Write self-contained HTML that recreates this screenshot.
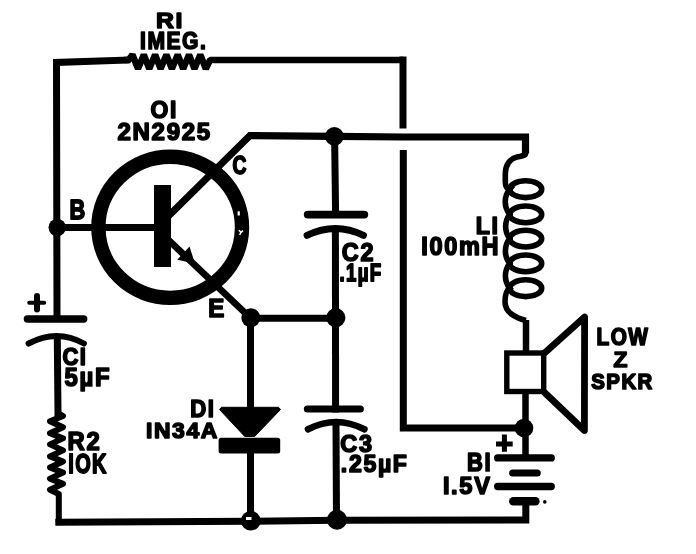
<!DOCTYPE html>
<html><head><meta charset="utf-8"><style>
html,body{margin:0;padding:0;background:#fff;}
body{width:696px;height:554px;overflow:hidden;}
svg{display:block;will-change:transform;}
text{font-family:"Liberation Sans",sans-serif;font-weight:bold;fill:#000;font-kerning:none;}
</style></head><body>
<svg width="696" height="554" viewBox="0 0 696 554">
<rect width="696" height="554" fill="#fff"/>
<path d="M127,60 L56.5,62.5 L57,316" fill="none" stroke="#000" stroke-width="7" stroke-linejoin="miter" stroke-linecap="square"/>
<path d="M124,60 L128.5,60 L132.5,54.8 L138.0,68.8 L143.8,54.8 L149.3,68.8 L155.1,54.8 L160.6,68.8 L166.4,54.8 L171.9,68.8 L177.7,54.8 L183.2,68.8 L189.0,54.8 L194.5,68.8 L200.3,54.8 L205.8,68.8 L210,60 L403,60" fill="none" stroke="#000" stroke-width="6.5" stroke-linejoin="bevel"/>
<path d="M403,56.5 L403,128.5" fill="none" stroke="#000" stroke-width="7" stroke-linejoin="miter" stroke-linecap="butt"/>
<path d="M403.3,150 L403.3,428 L524,428" fill="none" stroke="#000" stroke-width="7" stroke-linejoin="miter" stroke-linecap="butt"/>
<path d="M57,227.5 L155,227.5" fill="none" stroke="#000" stroke-width="7" stroke-linejoin="miter" stroke-linecap="square"/>
<path d="M27.4,319 L83.7,319" stroke="#000" stroke-width="7.4" stroke-linecap="round"/>
<path d="M28.6,343.5 Q57,328.5 83.9,343.5" fill="none" stroke="#000" stroke-width="6" stroke-linecap="round"/>
<path d="M57.3,339 L58,413" fill="none" stroke="#000" stroke-width="7" stroke-linejoin="miter" stroke-linecap="square"/>
<path d="M58,410 L58,413 L63,416 L50,421.3 L63,427.3 L50,433.3 L63,438.4 L50,444.4 L63,450.4 L50,456.4 L63,461.5 L50,467.5 L63,472.6 L50,478.6 L63,483.8 L50,489.8 L58.8,494 L58.8,522" fill="none" stroke="#000" stroke-width="6" stroke-linejoin="round"/>
<path d="M58.8,522.2 L250,521.3 L337,520.2 L525.8,520 L525.8,501" fill="none" stroke="#000" stroke-width="7" stroke-linejoin="miter" stroke-linecap="square"/>
<ellipse cx="170.2" cy="227.3" rx="71.8" ry="70.6" fill="none" stroke="#000" stroke-width="14.4"/>
<rect x="154" y="185" width="17" height="82" fill="#000"/>
<path d="M170,214.5 L250,135.5 L334.5,136.3 L403,137 L525.5,137 L525.5,150" fill="none" stroke="#000" stroke-width="7.2" stroke-linejoin="miter" stroke-linecap="square"/>
<path d="M170,241.5 L251,318.5" fill="none" stroke="#000" stroke-width="6.8" stroke-linejoin="miter" stroke-linecap="square"/>
<polygon points="189.5,246.5 177.2,259.8 195,263.5" fill="#000"/>
<path d="M251.7,318.3 L336,318.2" fill="none" stroke="#000" stroke-width="7" stroke-linejoin="miter" stroke-linecap="square"/>
<path d="M250.5,317 L250.5,410" fill="none" stroke="#000" stroke-width="7" stroke-linejoin="miter" stroke-linecap="square"/>
<polygon points="221.5,407.3 278.5,407.3 280.5,409.5 254.6,436.5 244.8,436.5 219.5,409.5" fill="#000" stroke="#000" stroke-width="1" stroke-linejoin="round"/>
<rect x="218.6" y="437.7" width="61.6" height="15.8" rx="2.5" fill="#000"/>
<path d="M250.5,453 L250.5,520" fill="none" stroke="#000" stroke-width="7" stroke-linejoin="miter" stroke-linecap="square"/>
<path d="M334.6,136 L335.6,214" fill="none" stroke="#000" stroke-width="7" stroke-linejoin="miter" stroke-linecap="square"/>
<path d="M307.7,214.6 L364.3,214.6" stroke="#000" stroke-width="7.8" stroke-linecap="round"/>
<path d="M307,235.4 Q335.5,221.6 363.5,235.4" fill="none" stroke="#000" stroke-width="6.8" stroke-linecap="round"/>
<path d="M335.4,232 L335.6,409" fill="none" stroke="#000" stroke-width="7" stroke-linejoin="miter" stroke-linecap="square"/>
<path d="M307.4,409 L360.3,409" stroke="#000" stroke-width="7.2" stroke-linecap="round"/>
<path d="M308,429.3 Q336,414.7 364.4,429.3" fill="none" stroke="#000" stroke-width="6.6" stroke-linecap="round"/>
<path d="M336,425 L336.5,520" fill="none" stroke="#000" stroke-width="7" stroke-linejoin="miter" stroke-linecap="square"/>
<ellipse cx="525.7" cy="189.2" rx="16" ry="8.4" fill="none" stroke="#000" stroke-width="5.6"/>
<ellipse cx="525.7" cy="214.4" rx="16" ry="8.4" fill="none" stroke="#000" stroke-width="5.6"/>
<ellipse cx="525.7" cy="238.6" rx="16" ry="8.4" fill="none" stroke="#000" stroke-width="5.6"/>
<ellipse cx="525.7" cy="263.4" rx="16" ry="8.4" fill="none" stroke="#000" stroke-width="5.6"/>
<ellipse cx="525.7" cy="288.2" rx="16" ry="8.4" fill="none" stroke="#000" stroke-width="5.6"/>
<path d="M525.5,150 L525.5,153.5 C525.5,156 521,156 517,157 C510,158.5 505.3,165 505.3,174 L505.3,182 C505.3,186 507,189.2 509.70000000000005,189.2 A 20 20 0 0 0 509.70000000000005,214.4 A 20 20 0 0 0 509.70000000000005,238.6 A 20 20 0 0 0 509.70000000000005,263.4 A 20 20 0 0 0 509.70000000000005,288.2 C506,290.2 505,295 505,302 C505,312 515,318 526,320.5" fill="none" stroke="#000" stroke-width="5.6"/>
<path d="M526,320 L526,351" fill="none" stroke="#000" stroke-width="6.5" stroke-linejoin="miter" stroke-linecap="butt"/>
<rect x="506.8" y="353" width="36.9" height="38.5" fill="none" stroke="#000" stroke-width="5.4"/>
<path d="M544,353.5 L584.6,317 L584.4,430.5 L544,392" fill="none" stroke="#000" stroke-width="6.8" stroke-linejoin="round"/>
<path d="M525.5,393 L525.5,457" fill="none" stroke="#000" stroke-width="6.5" stroke-linejoin="miter" stroke-linecap="butt"/>
<path d="M497.6,457.9 L551.3,457.9" stroke="#000" stroke-width="7.2" stroke-linecap="round"/>
<path d="M512.6,473.1 L537.3,473.1" stroke="#000" stroke-width="7" stroke-linecap="round"/>
<path d="M497.7,486.5 L551.2,486.5" stroke="#000" stroke-width="7.4" stroke-linecap="round"/>
<path d="M513.3,501.2 L535.4,501.2" stroke="#000" stroke-width="8.5" stroke-linecap="round"/>
<circle cx="544.8" cy="501.9" r="1.8" fill="#000"/>
<path d="M29.2,302.8 L44.2,302.8" stroke="#000" stroke-width="4" stroke-linecap="round"/>
<path d="M37,296 L37,309.5" stroke="#000" stroke-width="6" stroke-linecap="round"/>
<path d="M496,444 L512.7,444 M504.4,434.6 L504.4,451.7" stroke="#000" stroke-width="5"/>
<circle cx="57.2" cy="227.5" r="8.7" fill="#000"/>
<circle cx="334.4" cy="136.4" r="9.3" fill="#000"/>
<circle cx="250.8" cy="317.8" r="9.5" fill="#000"/>
<circle cx="335.8" cy="317.7" r="9.6" fill="#000"/>
<circle cx="250.8" cy="520.7" r="9.8" fill="#000"/>
<circle cx="337" cy="519.8" r="10" fill="#000"/>
<circle cx="524" cy="428" r="9.3" fill="#000"/>
<rect x="246" y="517" width="5.5" height="3" fill="#fff"/>
<rect x="237.6" y="211.3" width="2.2" height="4.2" fill="#fff"/>
<path d="M239,230.2 L241,232.4 L243,230.6 M241,232.4 L239.6,234.8" stroke="#fff" stroke-width="1.5" fill="none"/>
<text transform="matrix(0.24813 0 0 0.22691 155.93 28.30)" x="0.00 79.22" y="0" font-size="100" stroke="#000" stroke-width="6.74" stroke-linejoin="round">RI</text>
<text transform="matrix(0.21092 0 0 0.24452 140.08 48.76)" x="0.00 34.78 125.08 198.78 283.56" y="0" font-size="100" stroke="#000" stroke-width="7.03" stroke-linejoin="round">IMEG.</text>
<text transform="matrix(0.24063 0 0 0.23180 117.46 139.97)" x="0.00 62.61 141.83 204.44 267.05 329.66" y="0" font-size="100" stroke="#000" stroke-width="6.77" stroke-linejoin="round">2N2925</text>
<text transform="matrix(0.19237 0 0 0.25018 232.43 173.85)" x="0.00" y="0" font-size="100" stroke="#000" stroke-width="7.23" stroke-linejoin="round">C</text>
<text transform="matrix(0.21803 0 0 0.26909 69.53 219.40)" x="0.00" y="0" font-size="100" stroke="#000" stroke-width="6.57" stroke-linejoin="round">B</text>
<text transform="matrix(0.24107 0 0 0.25891 208.37 317.00)" x="0.00" y="0" font-size="100" stroke="#000" stroke-width="6.40" stroke-linejoin="round">E</text>
<text transform="matrix(0.23432 0 0 0.26290 341.86 261.14)" x="0.00 79.22" y="0" font-size="100" stroke="#000" stroke-width="6.44" stroke-linejoin="round">C2</text>
<text transform="matrix(0.23222 0 0 0.24291 475.63 234.00)" x="0.00 68.08" y="0" font-size="100" stroke="#000" stroke-width="6.74" stroke-linejoin="round">LI</text>
<text transform="matrix(0.23542 0 0 0.25159 421.31 254.85)" x="0.00 34.78 97.39 160.00 255.92" y="0" font-size="100" stroke="#000" stroke-width="6.57" stroke-linejoin="round">I00mH</text>
<text transform="matrix(0.20728 0 0 0.23604 596.60 345.36)" x="0.00 68.08 152.86" y="0" font-size="100" stroke="#000" stroke-width="7.22" stroke-linejoin="round">LOW</text>
<text transform="matrix(0.22805 0 0 0.22400 613.52 366.60)" x="0.00" y="0" font-size="100" stroke="#000" stroke-width="7.08" stroke-linejoin="round">Z</text>
<text transform="matrix(0.20426 0 0 0.22615 591.29 388.67)" x="0.00 73.70 147.41 226.62" y="0" font-size="100" stroke="#000" stroke-width="7.43" stroke-linejoin="round">SPKR</text>
<text transform="matrix(0.22026 0 0 0.23604 62.42 365.26)" x="0.00 79.22" y="0" font-size="100" stroke="#000" stroke-width="7.01" stroke-linejoin="round">CI</text>
<text transform="matrix(0.23871 0 0 0.25520 67.49 449.60)" x="0.00 79.22" y="0" font-size="100" stroke="#000" stroke-width="6.48" stroke-linejoin="round">R2</text>
<text transform="matrix(0.19946 0 0 0.27703 68.25 472.72)" x="0.00 34.78 119.56" y="0" font-size="100" stroke="#000" stroke-width="6.72" stroke-linejoin="round">IOK</text>
<text transform="matrix(0.22139 0 0 0.24436 190.31 416.60)" x="0.00 79.22" y="0" font-size="100" stroke="#000" stroke-width="6.87" stroke-linejoin="round">DI</text>
<text transform="matrix(0.22914 0 0 0.22676 145.95 437.92)" x="0.00 34.78 114.00 176.61 239.22" y="0" font-size="100" stroke="#000" stroke-width="7.02" stroke-linejoin="round">IN34A</text>
<text transform="matrix(0.23497 0 0 0.23803 340.36 451.90)" x="0.00 79.22" y="0" font-size="100" stroke="#000" stroke-width="6.77" stroke-linejoin="round">C3</text>
<text transform="matrix(0.21925 0 0 0.25164 467.12 470.90)" x="0.00 79.22" y="0" font-size="100" stroke="#000" stroke-width="6.80" stroke-linejoin="round">BI</text>
<text transform="matrix(0.23655 0 0 0.24229 442.90 494.06)" x="0.00 34.78 69.56 132.17" y="0" font-size="100" stroke="#000" stroke-width="6.68" stroke-linejoin="round">I.5V</text>
<text transform="matrix(0.22899 0 0 0.24311 150.58 118.06)" x="0.00 84.78" y="0" font-size="100" stroke="#000" stroke-width="6.78" stroke-linejoin="round">OI</text>
<text transform="matrix(0.18660 0 0 0.24246 339.54 281.17)" x="0.00 34.78 97.39 162.02" y="0" font-size="100" stroke="#000" stroke-width="7.46" stroke-linejoin="round">.1µF</text>
<text transform="matrix(0.23934 0 0 0.25587 64.58 385.89)" x="0.00 62.61 127.23" y="0" font-size="100" stroke="#000" stroke-width="6.46" stroke-linejoin="round">5µF</text>
<text transform="matrix(0.23158 0 0 0.24751 340.84 472.06)" x="0.00 34.78 97.39 160.00 224.62" y="0" font-size="100" stroke="#000" stroke-width="6.68" stroke-linejoin="round">.25µF</text>
</svg>
</body></html>
